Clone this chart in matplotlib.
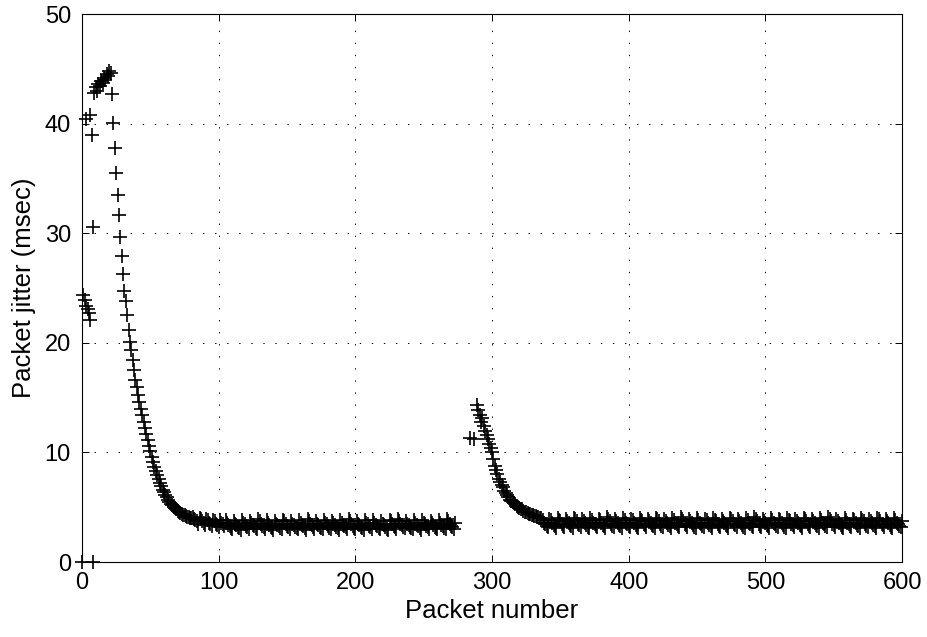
import matplotlib
matplotlib.use("Agg")
import matplotlib.pyplot as plt
import numpy as np

plt.rcParams['font.family'] = ['Liberation Sans', 'DejaVu Sans']

# scattered packets at the very start (packet number, jitter in msec)
early_x = [0, 1, 2, 3, 4, 5, 6, 3, 6, 7, 8, 8]
early_y = [0, 24.4, 23.9, 23.4, 23.1, 22.7, 22.1, 40.4, 40.8, 39.0, 30.6, 0]

# first run of consecutive packets, starting at packet 9
run1_start = 9
peak1_y = [42.8, 43.3, 43.0, 43.6, 43.4, 43.9, 43.7, 44.2, 44.0, 44.5, 44.3, 44.8, 44.6]
decay1_y = [42.7, 40.1, 37.8, 35.5, 33.5, 31.7, 29.7, 27.9, 26.3, 24.7, 23.8, 22.5,
            21.2, 20.1, 19.3, 18.4, 17.5, 16.6, 16.0, 15.2, 14.6, 14.0, 13.4, 12.8,
            12.2, 11.7, 11.1, 10.6, 10.1, 9.6, 9.1, 8.7, 8.3, 7.9, 7.6, 7.2,
            6.9, 6.6, 6.4, 6.1, 5.9, 5.7, 5.5, 5.3, 5.2, 5.0, 4.9, 4.8,
            4.7, 4.6, 4.5, 4.4, 4.3, 4.3, 4.2, 4.1, 4.1, 4.0, 4.0,
            4.1, 3.9, 3.8, 3.7, 3.5, 4.0, 3.9, 3.7, 3.6, 3.4, 3.9, 3.8,
            3.6, 3.5, 3.3, 3.8, 3.7, 3.5, 3.4, 3.2, 3.8, 3.6, 3.5, 3.3]
flat1_y = [3.8, 3.6, 3.4, 3.3, 3.1, 3.0, 3.7, 3.5, 3.4, 3.2, 3.1, 2.9,
           3.8, 3.6, 3.5, 3.3, 3.2, 3.0, 3.7, 3.6, 3.4, 3.3, 3.1, 3.0,
           3.9, 3.7, 3.5, 3.3, 3.2, 3.0, 3.8, 3.6, 3.4, 3.2, 3.1, 2.9,
           3.7, 3.5, 3.4, 3.3, 3.1, 3.0, 3.8, 3.7, 3.5, 3.3, 3.2, 3.0,
           3.7, 3.5, 3.4, 3.2, 3.1, 3.0, 3.8, 3.6, 3.4, 3.3, 3.1, 2.9,
           3.9, 3.7, 3.5, 3.4, 3.2, 3.0, 3.7, 3.5, 3.4, 3.2, 3.1, 3.0,
           3.8, 3.6, 3.5, 3.3, 3.1, 3.0, 3.7, 3.6, 3.4, 3.2, 3.1, 2.9,
           3.8, 3.6, 3.4, 3.3, 3.2, 3.0, 3.9, 3.7, 3.5, 3.3, 3.1, 3.0,
           3.7, 3.5, 3.4, 3.2, 3.1, 2.9, 3.8, 3.6, 3.5, 3.3, 3.2, 3.0,
           3.8, 3.6, 3.4, 3.3, 3.1, 3.0, 3.7, 3.5, 3.4, 3.2, 3.0, 2.9,
           3.8, 3.7, 3.5, 3.3, 3.2, 3.0, 3.9, 3.7, 3.5, 3.4, 3.2, 3.1,
           3.7, 3.5, 3.4, 3.2, 3.1, 3.0, 3.8, 3.6, 3.4, 3.3, 3.1, 2.9,
           3.8, 3.6, 3.5, 3.3, 3.2, 3.0, 3.7, 3.6, 3.4, 3.2, 3.1, 3.0,
           3.8, 3.6, 3.4, 3.3, 3.1, 3.0, 3.9, 3.7, 3.5, 3.3, 3.2, 3.0,
           3.6]

# restart of the stream
restart_x = [284, 287]
restart_y = [11.3, 11.2]

# second run of consecutive packets, starting at packet 289
run2_start = 289
decay2_y = [14.3, 13.9, 13.4, 12.8, 13.1, 12.4, 12.0, 11.6, 11.2, 10.8, 10.4, 10.0,
            9.4, 8.8, 8.4, 8.0, 7.6, 7.3, 7.0, 6.8, 6.5, 6.3, 6.1, 5.9,
            5.7, 5.6, 5.5, 5.4, 5.3, 5.1, 5.0, 4.9, 4.8, 4.8, 4.7, 4.6,
            4.6, 4.5, 4.4, 4.4, 4.3, 4.3, 4.2, 4.2, 4.1, 4.1, 4.0]
flat2_y = [4.0, 3.8, 3.6, 3.5, 3.3, 3.2, 3.9, 3.8, 3.6, 3.4, 3.3, 3.1,
           4.0, 3.8, 3.7, 3.5, 3.3, 3.2, 3.9, 3.7, 3.6, 3.4, 3.3, 3.1,
           4.0, 3.9, 3.7, 3.5, 3.4, 3.2, 3.9, 3.7, 3.6, 3.4, 3.2, 3.1,
           4.0, 3.8, 3.6, 3.5, 3.3, 3.2, 3.9, 3.8, 3.6, 3.4, 3.3, 3.1,
           4.1, 3.9, 3.7, 3.5, 3.3, 3.2, 3.9, 3.7, 3.6, 3.4, 3.3, 3.1,
           4.0, 3.8, 3.6, 3.5, 3.3, 3.2, 3.9, 3.8, 3.6, 3.4, 3.2, 3.1,
           4.0, 3.8, 3.7, 3.5, 3.4, 3.2, 3.9, 3.7, 3.6, 3.4, 3.3, 3.1,
           4.0, 3.9, 3.7, 3.5, 3.3, 3.2, 3.9, 3.7, 3.6, 3.4, 3.3, 3.1,
           4.0, 3.8, 3.6, 3.5, 3.3, 3.2, 4.1, 3.9, 3.7, 3.5, 3.4, 3.2,
           3.9, 3.7, 3.6, 3.4, 3.2, 3.1, 4.0, 3.8, 3.6, 3.5, 3.3, 3.2,
           3.9, 3.8, 3.6, 3.4, 3.3, 3.1, 4.0, 3.8, 3.7, 3.5, 3.3, 3.2,
           3.9, 3.7, 3.6, 3.4, 3.3, 3.1, 4.0, 3.9, 3.7, 3.5, 3.4, 3.2,
           3.9, 3.7, 3.6, 3.4, 3.2, 3.1, 4.0, 3.8, 3.6, 3.5, 3.3, 3.2,
           4.1, 3.9, 3.7, 3.5, 3.3, 3.2, 3.9, 3.7, 3.6, 3.4, 3.3, 3.1,
           4.0, 3.8, 3.6, 3.5, 3.3, 3.2, 3.9, 3.8, 3.6, 3.4, 3.2, 3.1,
           4.0, 3.8, 3.7, 3.5, 3.4, 3.2, 3.9, 3.7, 3.6, 3.4, 3.3, 3.1,
           4.0, 3.9, 3.7, 3.5, 3.3, 3.2, 3.9, 3.7, 3.6, 3.4, 3.3, 3.1,
           4.0, 3.8, 3.6, 3.5, 3.3, 3.2, 4.1, 3.9, 3.7, 3.5, 3.4, 3.2,
           3.9, 3.7, 3.6, 3.4, 3.2, 3.1, 4.0, 3.8, 3.6, 3.5, 3.3, 3.2,
           3.9, 3.8, 3.6, 3.4, 3.3, 3.1, 4.0, 3.8, 3.7, 3.5, 3.3, 3.2,
           3.9, 3.7, 3.6, 3.4, 3.3, 3.1, 4.0, 3.9, 3.7, 3.5, 3.4, 3.2,
           3.9, 3.7, 3.6, 3.4, 3.2, 3.1, 4.0, 3.8, 3.6, 3.5, 3.3, 3.2,
           3.7]

x_ticks = [0, 100, 200, 300, 400, 500, 600]
y_ticks = [0, 10, 20, 30, 40, 50]

run1_y = peak1_y + decay1_y + flat1_y
run1_x = np.arange(run1_start, run1_start + len(run1_y))
run2_y = decay2_y + flat2_y
run2_x = np.arange(run2_start, run2_start + len(run2_y))

x = np.concatenate([early_x, run1_x, restart_x, run2_x])
y = np.concatenate([early_y, run1_y, restart_y, run2_y])

fig = plt.figure(figsize=(9.28, 6.37), dpi=100)
ax = fig.add_axes([0.0884, 0.1177, 0.8836, 0.8603])
ax.plot(x, y, '+', color='k', markersize=9.5, markeredgewidth=1.2, clip_on=False)

ax.set_xlim(0, 600)
ax.set_ylim(0, 50)
ax.set_xticks(x_ticks)
ax.set_yticks(y_ticks)
ax.grid(True, color='k', linewidth=0.7, linestyle=(0, (1.4, 11)))
ax.tick_params(direction='in', length=5, width=0.7, top=True, right=True, labelsize=17)
ax.tick_params(axis='x', pad=7)
ax.tick_params(axis='y', pad=8)
for s in ax.spines.values():
    s.set_linewidth(0.8)
ax.set_xlabel('Packet number', fontsize=18.5, labelpad=4)
ax.set_ylabel('Packet jitter (msec)', fontsize=18.5, labelpad=6)

fig.savefig('out.png', dpi=100)
